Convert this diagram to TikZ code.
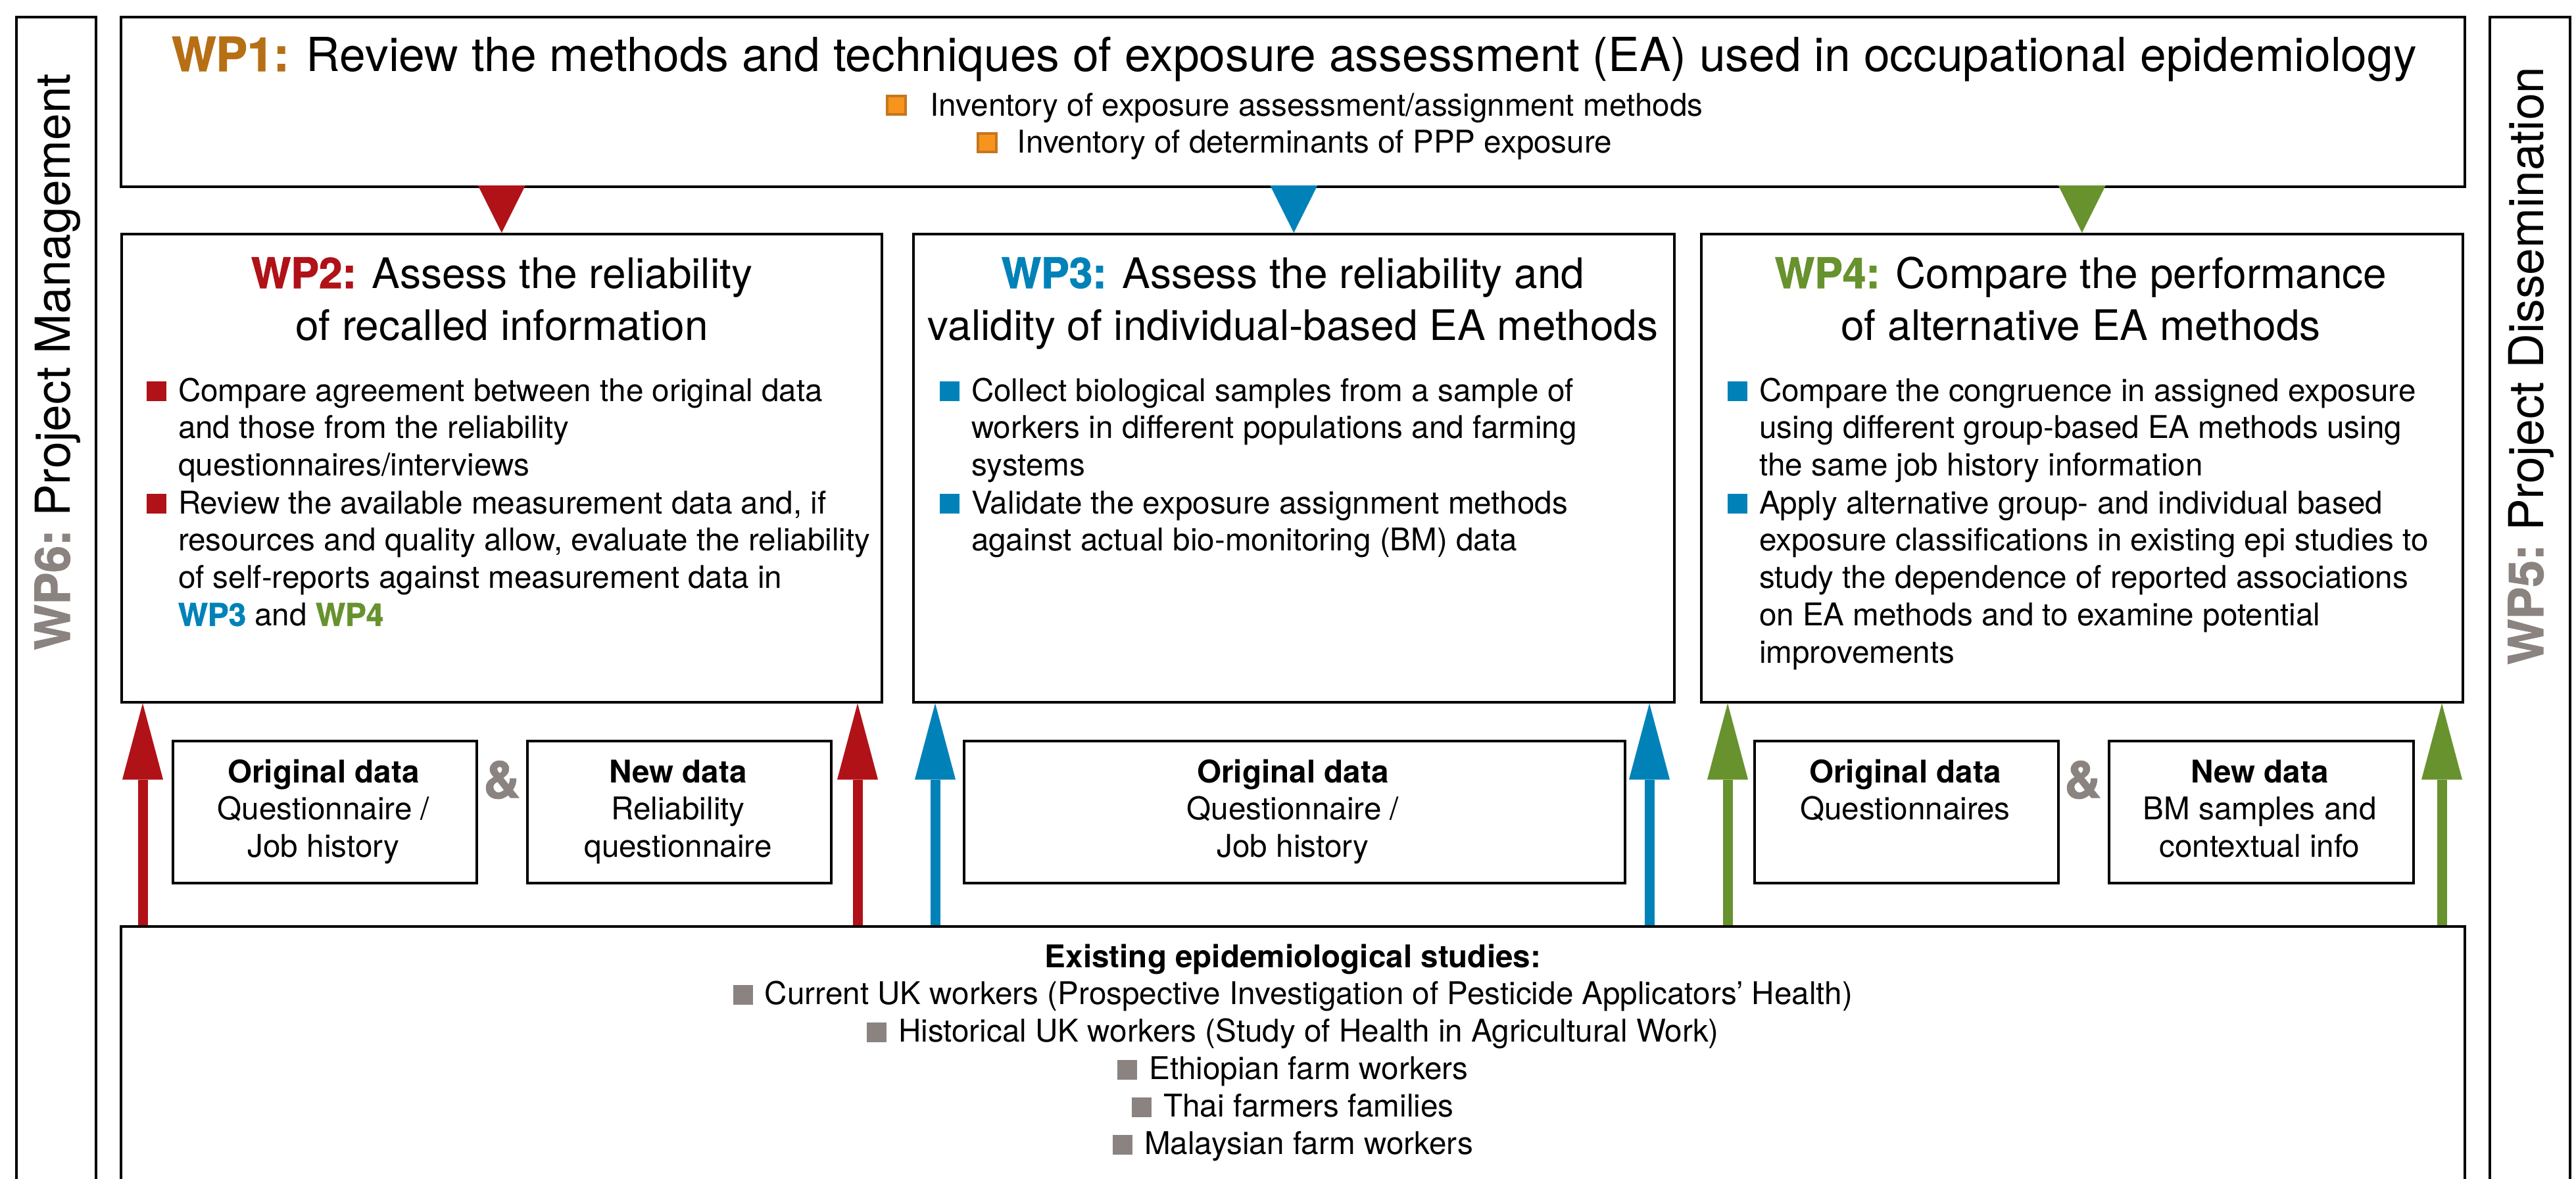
\documentclass[tikz,border=0pt]{standalone}
\usepackage{fontspec}
\setmainfont{TeX Gyre Heros}
\newfontfamily\heavyfont{texgyreheros-bold.otf}[FakeBold=1.6]
\usetikzlibrary{arrows.meta}

\definecolor{wpred}{RGB}{176,18,24}
\definecolor{wpblue}{RGB}{0,130,185}
\definecolor{wpgreen}{RGB}{103,146,46}
\definecolor{wporange}{RGB}{183,111,22}
\definecolor{orfill}{RGB}{247,148,29}
\definecolor{orbord}{RGB}{196,118,30}
\definecolor{wpgray}{RGB}{138,131,128}

\newcommand\fTitle{\fontsize{20.3pt}{24pt}\selectfont}
\newcommand\fHead{\fontsize{18.2pt}{22.5pt}\selectfont}
\newcommand\fBody{\fontsize{13.55pt}{16.2pt}\selectfont}
\newcommand\fSide{\fontsize{20.8pt}{24pt}\selectfont}
\newcommand\fAmp{\fontsize{22pt}{24pt}\selectfont\heavyfont}
\newcommand\wpl[2]{\textcolor{#1}{\heavyfont #2}}
\newcommand\bsq[1]{\textcolor{#1}{\rule{0.30cm}{0.30cm}}}
\newcommand\osq{\textcolor{orbord}{\rule{0.32cm}{0.32cm}}\hspace{-0.28cm}\raisebox{0.04cm}{\textcolor{orfill}{\rule{0.24cm}{0.24cm}}}\hspace{0.04cm}}

\tikzset{
  wpbox/.style={draw=black, line width=1pt, fill=white, inner sep=0pt, anchor=north west},
  txt/.style={inner sep=0pt, outer sep=0pt},
  uparrow/.style={line width=0.15cm, -{Triangle[width=0.62cm,length=1.16cm,line width=0pt]}},
  downtri/.style={line width=0.3pt, -{Triangle[width=0.72cm,length=0.72cm,line width=0pt]}},
}

\begin{document}
\begin{tikzpicture}
\useasboundingbox (0,0) rectangle (39.17,-17.92);
\clip (0,0) rectangle (39.17,-17.92);
\fill[white] (0,0) rectangle (39.17,-17.92);

% side boxes
\node[wpbox, minimum width=1.21cm, minimum height=19cm] (wp6) at (0.23,-0.24) {};
\node[wpbox, minimum width=1.22cm, minimum height=19cm] (wp5) at (37.84,-0.24) {};
\node[txt, rotate=90, anchor=base, font=\fSide] (wp6t) at (1.06,-5.50)
  {\wpl{wpgray}{WP6:}\hspace{-0.1em} Project Management};
\node[txt, rotate=90, anchor=base, font=\fSide] (wp5t) at (38.67,-5.56)
  {\wpl{wpgray}{WP5:}\hspace{-0.1em} Project Dissemination};

% WP1
\node[wpbox, minimum width=35.64cm, minimum height=2.58cm] (wp1) at (1.82,-0.24) {};
\node[txt, anchor=base, font=\fTitle] (wp1t) at (19.68,-1.08)
  {\wpl{wporange}{WP1:} Review the methods and techniques of exposure assessment (EA) used in occupational epidemiology};
\node[txt, anchor=base, font=\fBody] (wp1b) at (19.68,-1.76)
  {\parbox[t]{20cm}{\centering \osq\hspace{0.36cm}Inventory of exposure assessment/assignment methods\\
   \osq\hspace{0.30cm}Inventory of determinants of PPP exposure}};

% WP2-4 boxes
\node[wpbox, minimum width=11.56cm, minimum height=7.12cm] (wp2) at (1.83,-3.54) {};
\node[wpbox, minimum width=11.57cm, minimum height=7.12cm] (wp3) at (13.87,-3.54) {};
\node[wpbox, minimum width=11.58cm, minimum height=7.12cm] (wp4) at (25.85,-3.54) {};

% triangles from WP1
\draw[downtri, wpred] (wp2.north |- wp1.south) -- (wp2.north);
\draw[downtri, wpblue] (wp3.north |- wp1.south) -- (wp3.north);
\draw[downtri, wpgreen] (wp4.north |- wp1.south) -- (wp4.north);

% WP2 content
\node[txt, anchor=base, font=\fHead] (wp2t) at (7.63,-4.38)
  {\parbox[t]{11cm}{\centering \wpl{wpred}{WP2:} Assess the reliability\\of recalled information}};
\node[txt, anchor=base west, font=\fBody] (wp2i1) at (2.23,-6.10)
  {\bsq{wpred}\hspace{0.18cm}\parbox[t]{10.8cm}{Compare agreement between the original data\\and those from the reliability\\questionnaires/interviews}};
\node[txt, anchor=base west, font=\fBody] (wp2i2) at (2.23,-7.81)
  {\bsq{wpred}\hspace{0.18cm}\parbox[t]{10.8cm}{Review the available measurement data and, if\\resources and quality allow, evaluate the reliability\\of self-reports against measurement data in\\\wpl{wpblue}{WP3} and \wpl{wpgreen}{WP4}}};

% WP3 content
\node[txt, anchor=base, font=\fHead] (wp3t) at (19.66,-4.38)
  {\parbox[t]{11.5cm}{\centering \wpl{wpblue}{WP3:} Assess the reliability and\\validity of individual-based EA methods}};
\node[txt, anchor=base west, font=\fBody] (wp3i1) at (14.29,-6.10)
  {\bsq{wpblue}\hspace{0.18cm}\parbox[t]{10.8cm}{Collect biological samples from a sample of\\workers in different populations and farming\\systems}};
\node[txt, anchor=base west, font=\fBody] (wp3i2) at (14.29,-7.81)
  {\bsq{wpblue}\hspace{0.18cm}\parbox[t]{10.8cm}{Validate the exposure assignment methods\\against actual bio-monitoring (BM) data}};

% WP4 content
\node[txt, anchor=base, font=\fHead] (wp4t) at (31.64,-4.38)
  {\parbox[t]{11cm}{\centering \wpl{wpgreen}{WP4:} Compare the performance\\of alternative EA methods}};
\node[txt, anchor=base west, font=\fBody] (wp4i1) at (26.27,-6.10)
  {\bsq{wpblue}\hspace{0.18cm}\parbox[t]{10.8cm}{Compare the congruence in assigned exposure\\using different group-based EA methods using\\the same job history information}};
\node[txt, anchor=base west, font=\fBody] (wp4i2) at (26.27,-7.81)
  {\bsq{wpblue}\hspace{0.18cm}\parbox[t]{10.8cm}{Apply alternative group- and individual based\\exposure classifications in existing epi studies to\\study the dependence of reported associations\\on EA methods and to examine potential\\improvements}};

% data boxes
\node[wpbox, minimum width=4.62cm, minimum height=2.16cm] (d2a) at (2.61,-11.25) {};
\node[wpbox, minimum width=4.62cm, minimum height=2.16cm] (d2b) at (8.00,-11.25) {};
\node[wpbox, minimum width=10.05cm, minimum height=2.16cm] (d3) at (14.64,-11.25) {};
\node[wpbox, minimum width=4.62cm, minimum height=2.16cm] (d4a) at (26.66,-11.25) {};
\node[wpbox, minimum width=4.63cm, minimum height=2.16cm] (d4b) at (32.05,-11.25) {};

\node[txt, anchor=base, font=\fBody] (d2at) at (4.92,-11.90)
  {\parbox[t]{4.4cm}{\centering {\bfseries Original data}\\Questionnaire /\\Job history}};
\node[txt, anchor=base, font=\fBody] (d2bt) at (10.31,-11.90)
  {\parbox[t]{4.4cm}{\centering {\bfseries New data}\\Reliability\\questionnaire}};
\node[txt, anchor=base, font=\fBody] (d3t) at (19.66,-11.90)
  {\parbox[t]{9cm}{\centering {\bfseries Original data}\\Questionnaire /\\Job history}};
\node[txt, anchor=base, font=\fBody] (d4at) at (28.97,-11.90)
  {\parbox[t]{4.4cm}{\centering {\bfseries Original data}\\Questionnaires}};
\node[txt, anchor=base, font=\fBody] (d4bt) at (34.36,-11.90)
  {\parbox[t]{4.4cm}{\centering {\bfseries New data}\\BM samples and\\contextual info}};

\node[txt, anchor=base, font=\fAmp, text=wpgray] (amp2) at (7.63,-12.13) {\&};
\node[txt, anchor=base, font=\fAmp, text=wpgray] (amp4) at (31.67,-12.13) {\&};

% bottom box
\node[wpbox, minimum width=35.64cm, minimum height=5cm] (exist) at (1.82,-14.07) {};
\node[txt, anchor=base, font=\fBody] (existt) at (19.66,-14.71)
  {\parbox[t]{30cm}{\centering {\bfseries Existing epidemiological studies:}\\
   \bsq{wpgray}\hspace{0.18cm}Current UK workers (Prospective Investigation of Pesticide Applicators’ Health)\\
   \bsq{wpgray}\hspace{0.18cm}Historical UK workers (Study of Health in Agricultural Work)\\
   \bsq{wpgray}\hspace{0.18cm}Ethiopian farm workers\\
   \bsq{wpgray}\hspace{0.18cm}Thai farmers families\\
   \bsq{wpgray}\hspace{0.18cm}Malaysian farm workers}};

% up arrows
\coordinate (r1) at (2.17,-14.07);
\coordinate (r2) at (13.04,-14.07);
\coordinate (b1) at (14.22,-14.07);
\coordinate (b2) at (25.08,-14.07);
\coordinate (g1) at (26.27,-14.07);
\coordinate (g2) at (37.13,-14.07);
\draw[uparrow, wpred] (r1) -- (r1 |- wp2.south);
\draw[uparrow, wpred] (r2) -- (r2 |- wp2.south);
\draw[uparrow, wpblue] (b1) -- (b1 |- wp3.south);
\draw[uparrow, wpblue] (b2) -- (b2 |- wp3.south);
\draw[uparrow, wpgreen] (g1) -- (g1 |- wp4.south);
\draw[uparrow, wpgreen] (g2) -- (g2 |- wp4.south);
\end{tikzpicture}
\end{document}
